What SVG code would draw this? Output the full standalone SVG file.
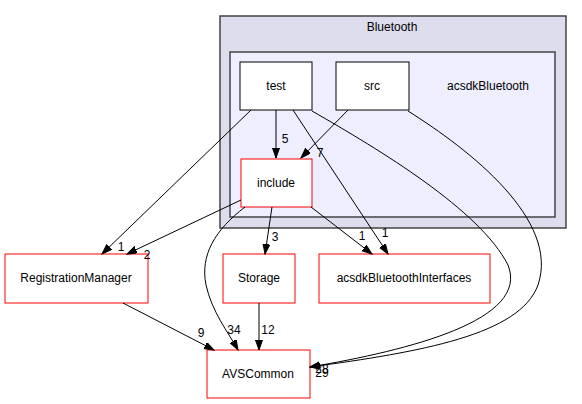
<svg xmlns="http://www.w3.org/2000/svg" width="582" height="404" viewBox="0 0 582 404">
<defs>
<marker id="arr" markerUnits="userSpaceOnUse" markerWidth="11" markerHeight="8" refX="10" refY="3.5" orient="auto">
<path d="M0,0 L10,3.5 L0,7 z" fill="#000" stroke="#000" stroke-width="1"/>
</marker>
</defs>
<style>
text{font-family:"Liberation Sans",Arial,sans-serif;font-size:12px;fill:#000}
.n text,.c text{text-anchor:middle}
.lbl{text-anchor:middle}
.e path{fill:none;stroke:#000;stroke-width:1;marker-end:url(#arr)}
.w{fill:#fff;stroke:#000;stroke-width:1}
.r{fill:#fff;stroke:#ff0000;stroke-width:1}
</style>
<g id="cluster_Bluetooth" class="c">
<rect x="220" y="16" width="346" height="212" fill="#ddddee" stroke="#444" stroke-width="1.5"/>
<text x="392" y="31">Bluetooth</text>
</g>
<g id="cluster_acsdkBluetooth" class="c">
<rect x="230" y="52" width="325" height="165" fill="#eeeeff" stroke="#444" stroke-width="1.5"/>
<text x="488" y="90">acsdkBluetooth</text>
</g>
<g id="node_test" class="n"><rect class="w" x="240" y="62" width="72" height="48"/><text x="276" y="90">test</text></g>
<g id="node_src" class="n"><rect class="w" x="336" y="62" width="73" height="48"/><text x="372" y="90">src</text></g>
<g id="node_include" class="n"><rect class="r" x="241" y="159" width="71" height="48"/><text x="276" y="187">include</text></g>
<g id="node_RegistrationManager" class="n"><rect class="r" x="5" y="254" width="143" height="49"/><text x="76" y="282">RegistrationManager</text></g>
<g id="node_Storage" class="n"><rect class="r" x="223" y="254" width="72" height="49"/><text x="259" y="282">Storage</text></g>
<g id="node_acsdkBluetoothInterfaces" class="n"><rect class="r" x="319" y="254" width="171" height="49"/><text x="404" y="282">acsdkBluetoothInterfaces</text></g>
<g id="node_AVSCommon" class="n"><rect class="r" x="207" y="350" width="103" height="48"/><text x="258" y="378">AVSCommon</text></g>
<g id="edges" class="e">
<path d="M276,110 L276,158"/>
<path d="M348,110 L301,158"/>
<path d="M251,110 L102,254"/>
<path d="M241,200 L127,254"/>
<path d="M272,207 L265,254"/>
<path d="M311,207 L372,254"/>
<path d="M293,110 L388,254"/>
<path d="M259,303 L259,350"/>
<path d="M123,303 L214,350"/>
<path d="M245,207 C215,230 200,255 206,285 C212,312 228,332 238,350"/>
<path d="M312,111 C380,150 480,210 508,265 C530,320 410,350 310,367"/>
<path d="M408,111 C470,150 560,220 538,285 C520,335 420,352 310,367"/>
<text class="lbl" x="285" y="143">5</text>
<text class="lbl" x="320" y="157">7</text>
<text class="lbl" x="121" y="251">1</text>
<text class="lbl" x="147" y="259">2</text>
<text class="lbl" x="275" y="241">3</text>
<text class="lbl" x="362" y="240">1</text>
<text class="lbl" x="385" y="237">1</text>
<text class="lbl" x="234" y="334">34</text>
<text class="lbl" x="268" y="334">12</text>
<text class="lbl" x="201" y="337">9</text>
<text class="lbl" x="322" y="373">28</text>
<text class="lbl" x="322" y="377">29</text>
</g>
</svg>
